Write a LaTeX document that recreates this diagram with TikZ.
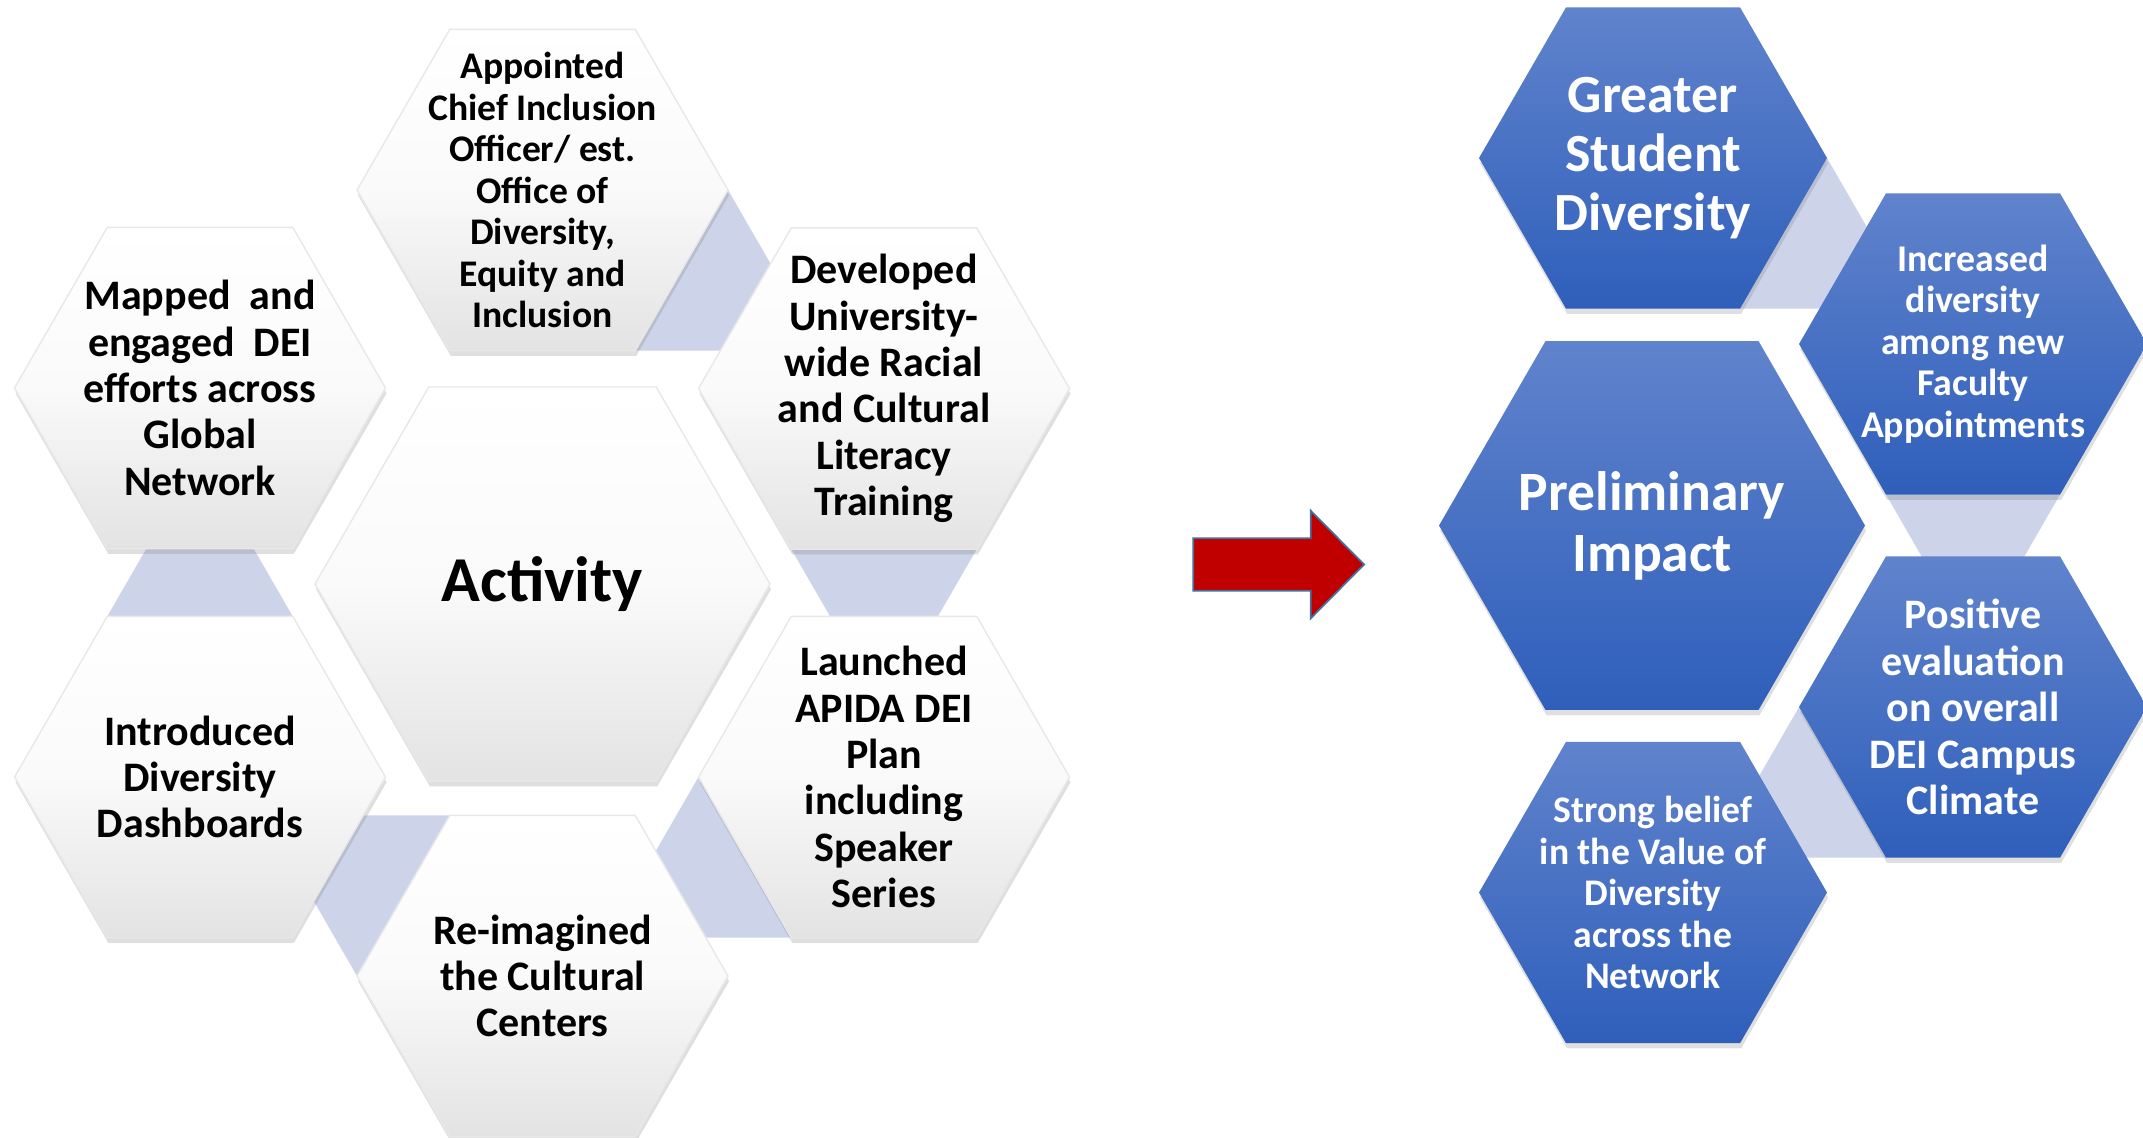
\documentclass[tikz,border=0pt]{standalone}
\usepackage{fontspec}
\setmainfont{Carlito}
\usetikzlibrary{shapes.geometric,shadows,calc,backgrounds}
\definecolor{linkblue}{RGB}{205,212,234}
\definecolor{hexblue}{RGB}{96,131,204}
\definecolor{hexdeep}{RGB}{47,95,187}
\definecolor{arrowred}{RGB}{192,0,0}
\definecolor{arrowedge}{RGB}{65,113,156}

\begin{document}
\begin{tikzpicture}[
		hexa/.style={regular polygon,regular polygon sides=6,inner sep=-1cm,outer sep=0pt,align=center,drop shadow={shadow xshift=0.3pt,shadow yshift=-1.5pt,opacity=0.25}},
		activity/.style={hexa,minimum size=3.71cm,draw=black!9,line width=0.4pt,top color=white,bottom color=black!11,middle color=black!2,text=black,font=\bfseries\fontsize{11.95}{13.2}\selectfont},
		impact/.style={hexa,minimum size=3.48cm,top color=hexblue,bottom color=hexdeep,text=white,font=\bfseries\fontsize{10.75}{11.8}\selectfont},
		link/.style={fill=linkblue}
		]
		\useasboundingbox (0,0) rectangle (21.43,-11.37);
		% activity cluster
		\node[activity,minimum size=4.55cm,font=\bfseries\fontsize{18.2}{20}\selectfont] (act) at (5.425,-5.84) {Activity};
		\node[activity,font=\bfseries\fontsize{10.7}{11.8}\selectfont] (app) at (5.425,-1.90) {Appointed\\Chief Inclusion\\Officer/ est.\\Office of\\Diversity,\\Equity and\\Inclusion};
		\node[activity] (map) at (2.00,-3.88) {Mapped\ \ and\\engaged\ \ DEI\\efforts across\\Global\\Network};
		\node[activity] (dev) at (8.84,-3.885) {Developed\\University-\\wide Racial\\and Cultural\\Literacy\\Training};
		\node[activity] (int) at (2.00,-7.77) {Introduced\\Diversity\\Dashboards};
		\node[activity] (lau) at (8.84,-7.77) {Launched\\APIDA DEI\\Plan\\including\\Speaker\\Series};
		\node[activity] (rei) at (5.425,-9.76) {Re-imagined\\the Cultural\\Centers};
		% impact cluster
		\node[impact,font=\bfseries\fontsize{15.3}{16.8}\selectfont] (gre) at (16.53,-1.58) {Greater\\Student\\Diversity};
		\node[impact] (inc) at (19.73,-3.44) {Increased\\diversity\\among new\\Faculty\\Appointments};
		\node[impact,minimum size=4.26cm,font=\bfseries\fontsize{15.8}{17.4}\selectfont] (pre) at (16.52,-5.255) {Preliminary\\Impact};
		\node[impact,font=\bfseries\fontsize{11.95}{13.2}\selectfont] (pos) at (19.73,-7.07) {Positive\\evaluation\\on overall\\DEI Campus\\Climate};
		\node[impact,font=\bfseries\fontsize{10.7}{11.8}\selectfont] (str) at (16.53,-8.925) {Strong belief\\in the Value of\\Diversity\\across the\\Network};
		% links behind the hexagons
		\begin{scope}[on background layer]
			\fill[link] (app.0) -- (app.-60) -- ($(app.-60)!1!-60:(app.0)$) -- cycle;
			\fill[link] (int.120) -- (int.60) -- ($(int.120)!1!60:(int.60)$) -- cycle;
			\fill[link] (dev.-120) -- (dev.-60) -- ($(dev.-120)!1!-60:(dev.-60)$) -- cycle;
			\fill[link] (rei.120) -- (rei.180) -- ($(rei.120)!1!-60:(rei.180)$) -- cycle;
			\fill[link] (lau.-120) -- (lau.180) -- ($(lau.-120)!1!60:(lau.180)$) -- cycle;
			\fill[link] (gre.0) -- (gre.-60) -- ($(gre.-60)!1!-60:(gre.0)$) -- cycle;
			\fill[link] (inc.-120) -- (inc.-60) -- ($(inc.-120)!1!-60:(inc.-60)$) -- cycle;
			\fill[link] (pos.-120) -- (pos.180) -- ($(pos.-120)!1!60:(pos.180)$) -- cycle;
		\end{scope}
		% block arrow
		\draw[fill=arrowred,draw=arrowedge,line width=0.5pt] (11.933,-5.383) -- (13.107,-5.383) -- (13.107,-5.107) -- (13.64,-5.645) -- (13.107,-6.183) -- (13.107,-5.907) -- (11.933,-5.907) -- cycle;
	\end{tikzpicture}
\end{document}
